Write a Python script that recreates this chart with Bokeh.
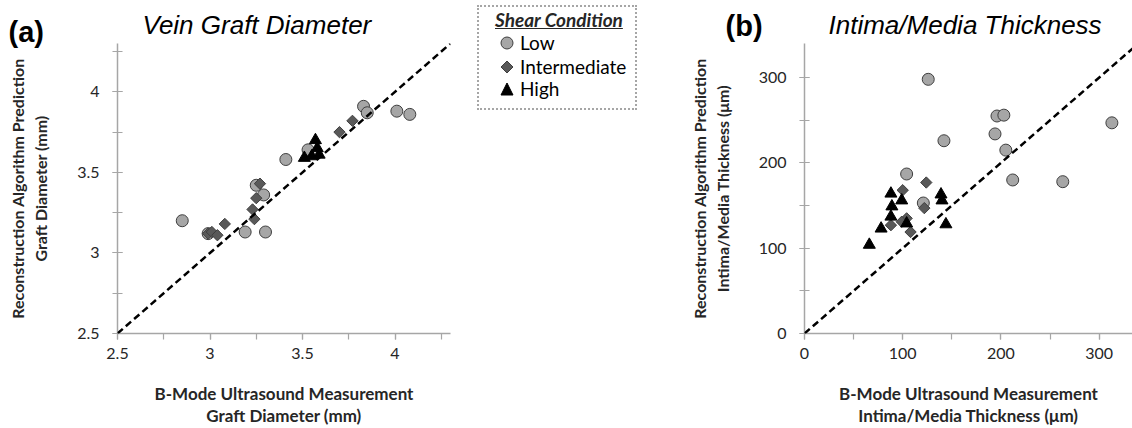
import math
from bokeh.plotting import figure
from bokeh.layouts import row
from bokeh.models import Range1d, SingleIntervalTicker, Slope, Label, Div
from bokeh.embed import file_html
from bokeh.resources import INLINE

# ---------------- data ----------------
groups = ["Low", "Intermediate", "High"]

# (a) Vein graft diameter (mm)
low_x_a = [2.85, 2.99, 3.19, 3.30, 3.25, 3.29, 3.41, 3.53, 3.83, 3.85, 4.01, 4.08]
low_y_a = [3.20, 3.12, 3.13, 3.13, 3.42, 3.36, 3.58, 3.64, 3.91, 3.87, 3.88, 3.86]
int_x_a = [2.99, 3.01, 3.04, 3.08, 3.23, 3.24, 3.25, 3.27, 3.70, 3.77]
int_y_a = [3.12, 3.13, 3.11, 3.18, 3.27, 3.21, 3.34, 3.43, 3.75, 3.82]
high_x_a = [3.51, 3.55, 3.57, 3.58, 3.59]
high_y_a = [3.59, 3.60, 3.70, 3.65, 3.61]

# (b) Intima/media thickness (um)
low_x_b = [126, 196, 203, 194, 142, 205, 313, 104, 212, 263, 121]
low_y_b = [298, 255, 256, 234, 226, 215, 247, 187, 180, 178, 153]
int_x_b = [100, 124, 104, 122, 88, 99, 108]
int_y_b = [168, 177, 135, 147, 127, 131, 119]
high_x_b = [66, 78, 88, 89, 88, 99, 104, 139, 140, 144]
high_y_b = [104, 123, 164, 149, 137, 156, 129, 163, 156, 128]

LABEL_FONT = "Lato"
AXIS_COLOR = "#a6a6a6"
TEXT_COLOR = "#262626"
LOW_FILL, LOW_LINE = "#a6a6a6", "#3f3f3f"
INT_FILL = "#595959"
HIGH_FILL = "black"

LOW_STYLE = dict(marker="circle", size=12, fill_color=LOW_FILL, line_color=LOW_LINE, line_width=1)
INT_STYLE = dict(marker="square", size=8, angle=math.pi / 4, fill_color=INT_FILL,
                 line_color=LOW_LINE, line_width=1)
HIGH_STYLE = dict(marker="triangle", size=12, fill_color=HIGH_FILL, line_color=HIGH_FILL,
                  line_width=1)


def style_axes(p, xint, yint):
    for ax, interval in ((p.xaxis[0], xint), (p.yaxis[0], yint)):
        ax.ticker = SingleIntervalTicker(interval=interval, num_minor_ticks=2)
        ax.axis_line_color = AXIS_COLOR
        ax.axis_line_width = 1.5
        ax.major_tick_line_color = AXIS_COLOR
        ax.minor_tick_line_color = AXIS_COLOR
        ax.major_tick_line_width = 1.2
        ax.minor_tick_line_width = 1.2
        ax.major_label_text_font = LABEL_FONT
        ax.major_label_text_font_size = "16px"
        ax.major_label_text_color = TEXT_COLOR
        ax.axis_label_text_font = LABEL_FONT
        ax.axis_label_text_font_style = "bold"
        ax.axis_label_text_color = TEXT_COLOR
    ya = p.yaxis[0]
    ya.major_tick_in = 5
    ya.major_tick_out = 5
    ya.minor_tick_in = 5
    ya.minor_tick_out = 5
    ya.major_label_standoff = 13
    ya.axis_label_standoff = 24
    ya.axis_label_text_font_size = "16px"
    xa = p.xaxis[0]
    xa.major_tick_in = 0
    xa.major_tick_out = 6
    xa.minor_tick_in = 0
    xa.minor_tick_out = 6
    xa.major_label_standoff = 8
    xa.axis_label_standoff = 21
    xa.axis_label_text_font_size = "17px"
    xa.axis_label_text_line_height = 1.05
    p.grid.visible = False
    p.outline_line_color = None


def make_panel(width, border_left, border_right, xr, yr, title, title_offset, xlabel, ylabel,
               xint, yint):
    p = figure(width=width, height=428, x_range=Range1d(*xr), y_range=Range1d(*yr),
               output_backend="svg", toolbar_location=None,
               min_border_left=border_left, min_border_right=border_right,
               min_border_top=43, min_border_bottom=93)
    p.title.text = title
    p.title.text_font = "Liberation Sans"
    p.title.text_font_style = "italic"
    p.title.text_font_size = "26px"
    p.title.text_color = "black"
    p.title.align = "left"
    p.title.offset = title_offset
    p.title.standoff = 7
    p.xaxis.axis_label = xlabel
    p.yaxis.axis_label = ylabel
    style_axes(p, xint, yint)
    p.add_layout(Slope(gradient=1, y_intercept=0, line_color="black", line_width=2.5,
                       line_dash="7 4"))
    return p


def tag_label(x, y, text):
    return Label(x=x, y=y, text=text, text_font="Liberation Sans", text_font_style="bold",
                 text_font_size="29px", text_baseline="middle", text_align="left",
                 text_color="black")


# ---- panel (a): frame 117..450 px ----
pa = make_panel(490, 117, 40, (2.5, 4.3), (2.5, 4.3), "Vein Graft Diameter", 25,
                "B-Mode Ultrasound Measurement\nGraft Diameter (mm)",
                "Reconstruction Algorithm Prediction\nGraft Diameter (mm)", 0.5, 0.5)
pa.scatter(low_x_a, low_y_a, **LOW_STYLE)
pa.scatter(int_x_a, int_y_a, **INT_STYLE)
pa.scatter(high_x_a, high_y_a, **HIGH_STYLE)
pa.add_layout(tag_label(1.911, 4.37, "(a)"), "right")

# ---- panel (b): frame 804..1132 px ----
pb = make_panel(487, 159, 0, (0, 334), (0, 340), "Intima/Media Thickness", 24,
                "B-Mode Ultrasound Measurement\nIntima/Media Thickness (\u03bcm)",
                "Reconstruction Algorithm Prediction\nIntima/Media Thickness (\u03bcm)", 100, 100)
pb.scatter(low_x_b, low_y_b, **LOW_STYLE)
pb.scatter(int_x_b, int_y_b, **INT_STYLE)
pb.scatter(high_x_b, high_y_b, **HIGH_STYLE)
pb.add_layout(tag_label(-80.4, 361, "(b)"), "left")

# ---- shared legend box ----
marker_svg = {
    "Low": f'<svg width="14" height="14"><circle cx="7" cy="7" r="6" fill="{LOW_FILL}" '
           f'stroke="{LOW_LINE}" stroke-width="1"/></svg>',
    "Intermediate": f'<svg width="14" height="14"><polygon points="7,1 13,7 7,13 1,7" '
                    f'fill="{INT_FILL}" stroke="{LOW_LINE}" stroke-width="1"/></svg>',
    "High": f'<svg width="14" height="14"><polygon points="7,1 13,13 1,13" fill="{HIGH_FILL}" '
            f'stroke="{HIGH_FILL}" stroke-width="1"/></svg>',
}
row_tops = [26, 50, 72]
items_html = "".join(
    f'<div style="position:absolute;left:21px;top:{t}px;height:20px;display:flex;'
    f'align-items:center;">{marker_svg[g]}'
    f'<span style="margin-left:6px;font-size:19px;line-height:20px;">{g}</span></div>'
    for g, t in zip(groups, row_tops))
legend_html = (
    f'<div style="position:relative;box-sizing:border-box;width:160px;height:105px;'
    f'border:2px dotted #a6a6a6;font-family:Lato, sans-serif;color:black;">'
    f'<div style="position:absolute;left:16px;top:3px;font-size:19px;line-height:20px;'
    f'font-weight:bold;font-style:italic;text-decoration:underline;color:{TEXT_COLOR};">'
    f'Shear Condition</div>{items_html}</div>')
legend_div = Div(text=legend_html, width=168, height=110, margin=(5, 0, 0, -13))

layout = row(pa, legend_div, pb, spacing=0)
open("out.html", "w").write(file_html(layout, INLINE))
